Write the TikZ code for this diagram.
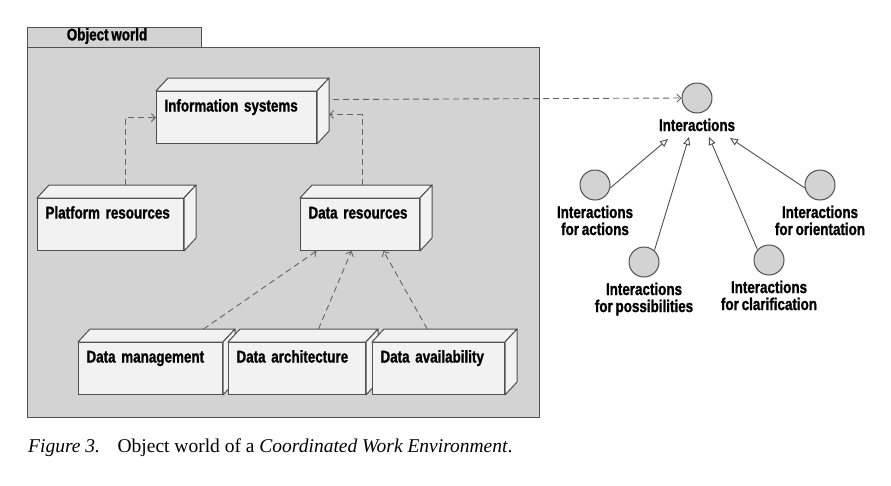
\documentclass[tikz,border=0pt]{standalone}
\usepackage{fontspec}
\setmainfont{Liberation Serif}
\newfontfamily\umlfont{Liberation Sans}[FakeStretch=0.79, WordSpace=0.75, BoldFeatures={FakeBold=1.2}]
\usetikzlibrary{arrows.meta,positioning}
\definecolor{framegray}{RGB}{211,211,211}
\definecolor{boxfill}{RGB}{242,242,242}
\definecolor{boxline}{RGB}{80,80,80}
\definecolor{depline}{RGB}{100,100,100}
\tikzset{
  lbl/.style={font=\umlfont\bfseries\fontsize{17}{17}\selectfont},
  devbox/.style={lbl, draw=boxline, line width=1pt, fill=boxfill, anchor=north west, align=left,
    inner sep=8pt, text height=12pt, text depth=24pt},
  devside/.style={draw=boxline, line width=1pt, fill=boxfill, line join=round},
  dep/.style={draw=depline, line width=0.9pt, dash pattern=on 6pt off 4pt, -{Straight Barb[length=4pt,width=8pt]}},
  actor/.style={circle, draw=boxline, line width=1pt, fill=framegray, minimum size=30pt, inner sep=0pt},
  actlbl/.style={lbl, align=center, inner sep=0pt},
  gen/.style={draw=boxline, line width=0.9pt, -{Triangle[open,fill=white,length=8pt,width=7pt]}}
}
\begin{document}
\begin{tikzpicture}[x=1pt,y=-1pt]
\useasboundingbox (0,0) rectangle (891,485);
% package frame
\draw[draw=boxline, line width=1pt, fill=framegray] (27,27) rectangle (201,47.5);
\draw[draw=boxline, line width=1pt, fill=framegray] (27,47.5) rectangle (539,417.5);
\node[lbl] (world) at (107,36) {Object world};
% devices, each with its depth faces
\foreach \n/\p/\w/\t in {info/{156,91}/144/Information systems, plat/{37,198}/130/Platform resources,
    dres/{300,198}/103/Data resources, dman/{78,342}/128/Data management,
    darch/{228,342}/121/Data architecture, davail/{372,342}/116/Data availability}{
  \node[devbox, text width=\w pt] (\n) at (\p) {\t};
  \draw[devside] (\n.north west) -- ++(12,-13) -- ([shift={(12,-13)}]\n.north east) -- (\n.north east) -- cycle;
  \draw[devside] (\n.north east) -- ([shift={(12,-13)}]\n.north east) -- ([shift={(12,-13)}]\n.south east) -- (\n.south east) -- cycle;
}
% dependencies
\draw[dep] ([shift={(15,-13)}]plat.north) |- (info.west);
\draw[dep] ([shift={(2,-13)}]dres.north) |- ([shift={(12,-3)}]info.east);
\draw[dep] ([shift={(53,-13)}]dman.north) -- ([xshift=-43.5]dres.south);
\draw[dep] ([shift={(21.5,-13)}]darch.north) -- ([xshift=-8.5]dres.south);
\draw[dep] ([shift={(-11.3,-13)}]davail.north) -- ([xshift=23.5]dres.south);
% interactions
\node[actor] (intr) at (697,98) {};
\node[actlbl, below=5pt of intr] (intrlbl) {Interactions};
\node[actor] (act) at (595,185) {};
\node[actlbl, below=5pt of act] (actlbl) {Interactions\\for actions};
\node[actor] (poss) at (644,262) {};
\node[actlbl, below=5pt of poss] (posslbl) {Interactions\\for possibilities};
\node[actor] (clar) at (769,260) {};
\node[actlbl, below=5pt of clar] (clarlbl) {Interactions\\for clarification};
\node[actor] (orient) at (820,185) {};
\node[actlbl, below=5pt of orient] (orientlbl) {Interactions\\for orientation};
\draw[dep] ([shift={(16,-18)}]info.east) -- (intr.west);
\coordinate (t1) at (668,139);
\coordinate (t2) at (689,137);
\coordinate (t3) at (709,137);
\coordinate (t4) at (730,138);
\draw[gen] (act.-11) -- (t1);
\draw[gen] (poss.48) -- (t2);
\draw[gen] (clar.138) -- (t3);
\draw[gen] (orient.191) -- (t4);
% caption
\node[anchor=base west, inner sep=0pt, font=\fontsize{19.5}{23}\selectfont] (cap) at (28,452)
  {\textit{Figure 3.}\hspace{0.9em}Object world of a \textit{Coordinated Work Environment}.};
\end{tikzpicture}
\end{document}
